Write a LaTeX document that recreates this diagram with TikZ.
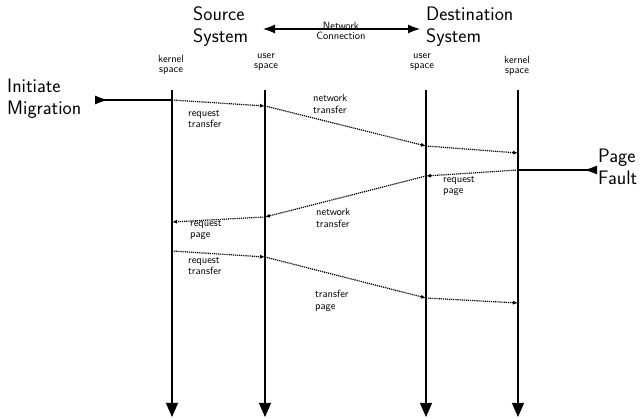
\documentclass[tikz,border=0pt]{standalone}
\usetikzlibrary{arrows.meta}

\tikzset{
    big/.style={font=\fontsize{19.5}{22}\selectfont\sffamily, align=left, anchor=west, inner sep=0pt},
    lane/.style={font=\fontsize{10.5}{10.5}\selectfont\sffamily, align=center, inner sep=0pt},
    note/.style={font=\fontsize{10.5}{11.5}\selectfont\sffamily, align=left, anchor=west, inner sep=0pt},
    timeline/.style={line width=1.1pt, -{Triangle[length=14pt,width=12pt]}},
    msg/.style={line width=1.2pt, dash pattern=on 1.2pt off 0.9pt, -{Latex[length=5pt,width=4pt]}},
    trigger/.style={line width=1.1pt, -{Latex[reversed,length=13pt,width=9pt]}}
}

\begin{document}
\begin{tikzpicture}[x=1pt,y=-1pt]
    \useasboundingbox (0,0) rectangle (641,419);

    % systems
    \node[big] (src) at (193,27) {Source\\System};
    \node[big] (dst) at (426,27) {Destination\\System};
    \node[lane] (net) at (341,31) {Network\\Connection};
    \coordinate (netL) at (263,29);
    \coordinate (netR) at (420,29);
    \draw[line width=1.1pt, {Latex[length=12pt,width=9pt]}-{Latex[length=12pt,width=9pt]}] (netL) -- (netR);

    % lanes
    \foreach \x/\n in {172/ks,265/us,426/ud,518/kd} {
        \coordinate (\n top) at (\x,90);
        \coordinate (\n bot) at (\x,417);
        \draw[timeline] (\n top) -- (\n bot);
    }
    \node[lane] (ksl) at (171,65) {kernel\\space};
    \node[lane] (usl) at (266,62) {user\\space};
    \node[lane] (udl) at (422,62) {user\\space};
    \node[lane] (kdl) at (517,66) {kernel\\space};

    % messages
    \foreach \n/\x/\y in {p1/172/100, p2/265/106, p3/426/146, p4/518/153,
                          p5/518/170, p6/426/176, p7/265/217, p8/172/222,
                          p9/172/251, p10/265/257, p11/426/298, p12/518/303} {
        \coordinate (\n) at (\x,\y);
    }
    \foreach \s/\t in {p1/p2,p2/p3,p3/p4,p5/p6,p6/p7,p7/p8,p9/p10,p10/p11,p11/p12} {
        \draw[msg] (\s) -- (\t);
    }
    \node[note] (n1) at (188,119) {request\\transfer};
    \node[note] (n2) at (313,104) {network\\transfer};
    \node[note] (n3) at (443,186) {request\\page};
    \node[note] (n4) at (316,218) {network\\transfer};
    \node[note] (n5) at (190,230) {request\\page};
    \node[note] (n6) at (188,266) {request\\transfer};
    \node[note] (n7) at (315,301) {transfer\\page};

    % triggers
    \node[big] (mig) at (7,99) {Initiate\\Migration};
    \coordinate (migtip) at (95,100);
    \draw[trigger] (p1) -- (migtip);
    \node[big] (fault) at (598,167) {Page\\Fault};
    \coordinate (faulttip) at (597,170);
    \draw[trigger] (p5) -- (faulttip);
\end{tikzpicture}
\end{document}
